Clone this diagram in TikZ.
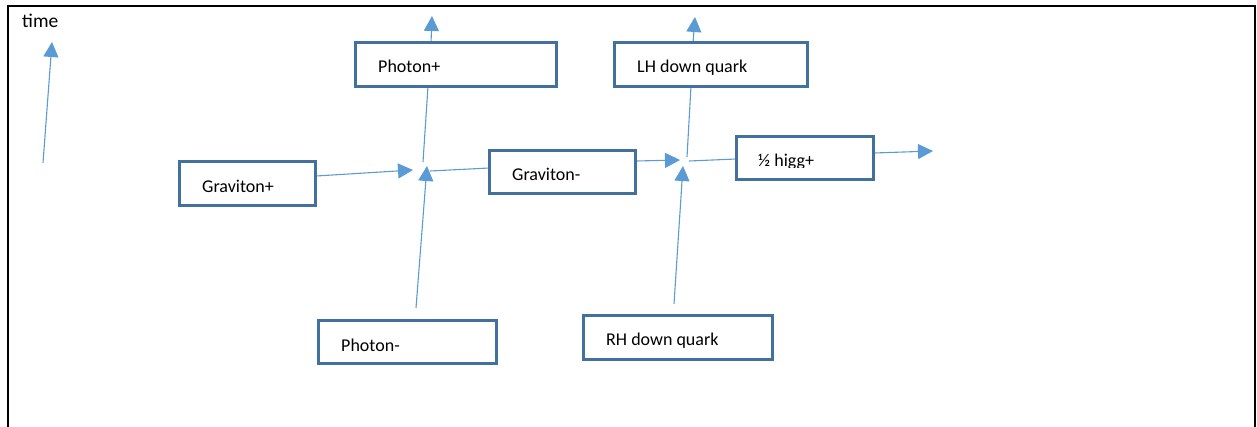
\documentclass[tikz,border=0pt]{standalone}
\usepackage{fontspec}
\setmainfont{Carlito}
\usetikzlibrary{arrows.meta}
\definecolor{boxblue}{HTML}{41719C}
\definecolor{linkblue}{HTML}{5B9BD5}
\tikzset{
  box/.style={draw=boxblue, line width=2pt, fill=white, inner sep=0pt},
  lbl/.style={anchor=base west, inner sep=0pt, font=\fontsize{18}{20}\selectfont},
  link/.style={draw=linkblue, line width=1.1pt},
  arr/.style={link, -{Triangle[length=15pt,width=15pt]}},
}
\newcommand{\boxat}[5]{% name, x1, y1, x2, y2
  \node[box, minimum width={#4-#2}, minimum height={#5-#3}] (#1) at ({(#2+#4)/2},{(#3+#5)/2}) {};}
\begin{document}
\begin{tikzpicture}[x=1pt, y=-1pt]
  \useasboundingbox (0,0) rectangle (1257,426);
  % page frame, open at the bottom
  \draw[line width=2pt] (8,427) -- (8,6) -- (1255,6) -- (1255,427);

  % time axis
  \node[anchor=base west, inner sep=0pt, font=\fontsize{19.5}{22}\selectfont] (time) at (22,27) {time};
  \coordinate (t0) at (43,163);
  \coordinate (t1) at (52,42);
  \draw[arr] (t0) -- (t1);

  % particle boxes
  \boxat{gp}{180}{162}{315}{205}
  \boxat{pp}{356}{43}{556}{86}
  \boxat{gm}{490}{151}{635}{193}
  \boxat{lh}{615}{43}{807}{86}
  \boxat{hg}{737}{137}{873}{179}
  \boxat{pm}{319}{321}{496}{363}
  \boxat{rh}{584}{316}{772}{359}

  \node[lbl] (gpt) at (202,192) {Graviton+};
  \node[lbl] (ppt) at (378,72) {Photon+};
  \node[lbl] (gmt) at (512,180) {Graviton-};
  \node[lbl] (lht) at (637,72) {LH down quark};
  \node[lbl] (pmt) at (341,351) {Photon-};
  \node[lbl] (rht) at (606,345) {RH down quark};
  \begin{scope}
    \clip (739,139) rectangle (871,167);
    \node[lbl] (hgt) at (758,166) {½ higg+};
  \end{scope}

  % first vertex
  \coordinate (v1in) at (413,170);
  \coordinate (v1up) at (427,166);
  \coordinate (v1a) at (423,162);
  \coordinate (v1b) at (430,171);
  \coordinate (pmlow) at (416,308);
  \coordinate (ppout) at (432,16);
  \draw[arr] (gp.east |- 0,176) -- (v1in);
  \draw[arr] (pmlow) -- (v1up);
  \draw[link] (v1a) -- (428,86);
  \draw[arr] (431,43) -- (ppout);
  \draw[link] (v1b) -- (gm.west |- 0,168);

  % second vertex
  \coordinate (v2in) at (680,160);
  \coordinate (v2up) at (683,166);
  \coordinate (v2a) at (687,157);
  \coordinate (v2b) at (689,161);
  \coordinate (rhlow) at (674,304);
  \coordinate (lhout) at (695,17);
  \coordinate (hgout) at (933,151);
  \draw[arr] (gm.east |- 0,161) -- (v2in);
  \draw[arr] (rhlow) -- (v2up);
  \draw[link] (v2a) -- (691,86);
  \draw[arr] (693,43) -- (lhout);
  \draw[link] (v2b) -- (hg.west |- 0,159);
  \draw[arr] (hg.east |- 0,153) -- (hgout);

  % redraw box outlines over line ends
  \foreach \b in {gp,pp,gm,lh,hg,pm,rh}{\draw[draw=boxblue, line width=2pt] (\b.south west) rectangle (\b.north east);}
\end{tikzpicture}
\end{document}
